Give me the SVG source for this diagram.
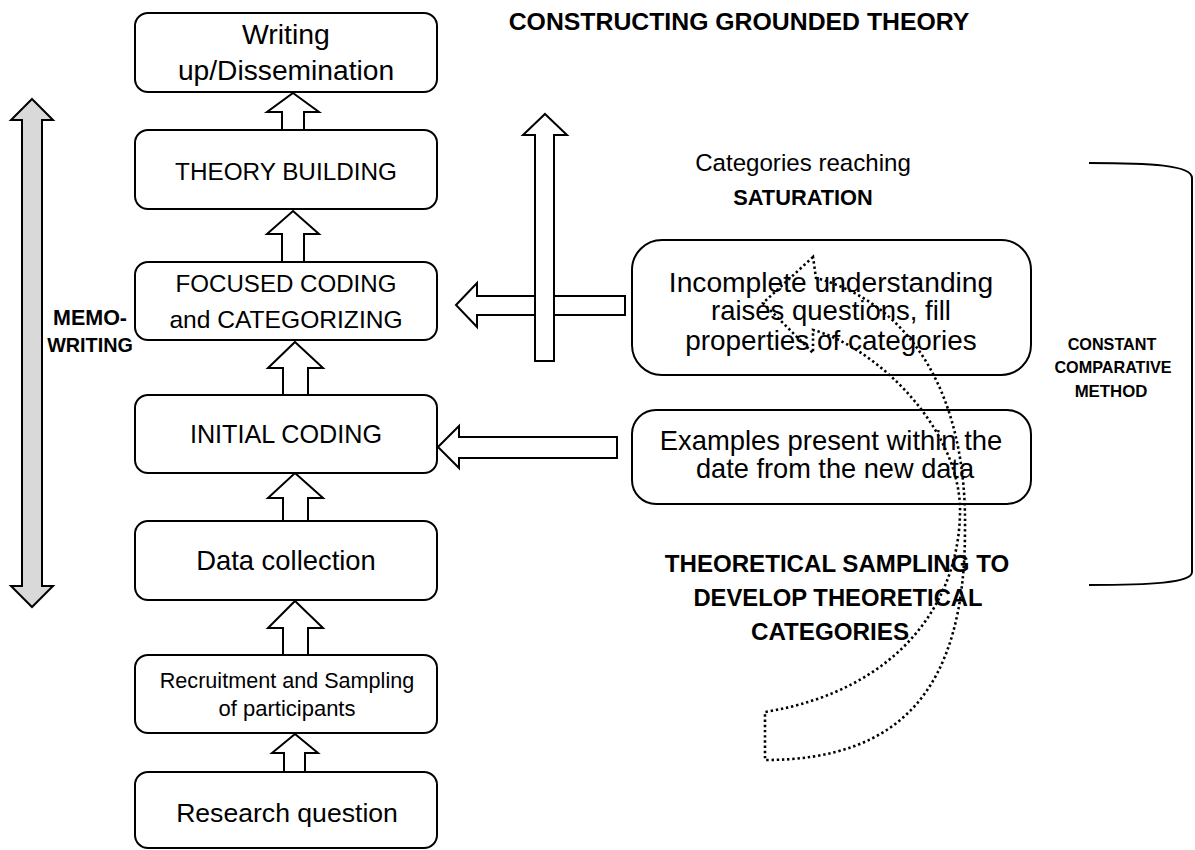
<svg xmlns="http://www.w3.org/2000/svg" width="1195" height="850" viewBox="0 0 1195 850">
<style>
.box{fill:#fff;stroke:#000;stroke-width:2}
.arr{fill:#fff;stroke:#000;stroke-width:2;stroke-linejoin:miter}
.t{font-family:"Liberation Sans",Arial,sans-serif;fill:#000;text-anchor:middle}
.b{font-weight:bold}
.dot{fill:none;stroke:#000;stroke-width:2.6;stroke-dasharray:2.4 2.8}
</style>
<rect width="1195" height="850" fill="#fff"/>

<g id="title"><text class="t b" x="739" y="30" font-size="24.8">CONSTRUCTING GROUNDED THEORY</text></g>

<g id="memo-writing">
<polygon points="32,99 53,120 42,120 42,586 53,586 32,607 11,586 22,586 22,120 11,120" fill="#d9d9d9" stroke="#000" stroke-width="2"/>
<text class="t b" x="90" y="325" font-size="21.5">MEMO-</text>
<text class="t b" x="90" y="352" font-size="19.8">WRITING</text>
</g>

<g id="connectors">
<polygon class="arr" points="293,93 319,112 304,112 304,130 282,130 282,112 267,112"/>
<polygon class="arr" points="293,211 319,234 304,234 304,262 282,262 282,234 267,234"/>
<polygon class="arr" points="295,342 323,368 308,368 308,395 283,395 283,368 268,368"/>
<polygon class="arr" points="295,473 323,498 308,498 308,521 283,521 283,498 268,498"/>
<polygon class="arr" points="295,601 323,628 308,628 308,655 283,655 283,628 268,628"/>
<polygon class="arr" points="295,734 318,753 305,753 305,772 284,772 284,753 272,753"/>
<polygon class="arr" points="456,305 477,283 477,296 625,296 625,315 477,315 477,327"/>
<polygon class="arr" points="545,114 567,135 554,135 554,361 535,361 535,135 523,135"/>
<polygon class="arr" points="438,447 459,426 459,437 617,437 617,458 459,458 459,468"/>
</g>

<g id="writing-up">
<rect class="box" x="135" y="13" width="302" height="79" rx="13"/>
<text class="t" x="286" y="44" font-size="28.4">Writing</text>
<text class="t" x="286" y="80" font-size="28.2">up/Dissemination</text>
</g>
<g id="theory-building">
<rect class="box" x="135" y="130" width="302" height="79" rx="13"/>
<text class="t" x="286" y="180" font-size="24.3">THEORY BUILDING</text>
</g>
<g id="focused-coding">
<rect class="box" x="135" y="262" width="302" height="78" rx="13"/>
<text class="t" x="286" y="292" font-size="24.1">FOCUSED CODING</text>
<text class="t" x="286" y="328" font-size="24.6">and CATEGORIZING</text>
</g>
<g id="initial-coding">
<rect class="box" x="135" y="395" width="302" height="78" rx="13"/>
<text class="t" x="286" y="443" font-size="25.2">INITIAL CODING</text>
</g>
<g id="data-collection">
<rect class="box" x="135" y="521" width="302" height="79" rx="13"/>
<text class="t" x="286" y="570" font-size="27.4">Data collection</text>
</g>
<g id="recruitment">
<rect class="box" x="135" y="655" width="302" height="78" rx="13"/>
<text class="t" x="287" y="688" font-size="21.6">Recruitment and Sampling</text>
<text class="t" x="287" y="716" font-size="22">of participants</text>
</g>
<g id="research-question">
<rect class="box" x="135" y="772" width="302" height="76" rx="13"/>
<text class="t" x="287" y="822" font-size="26.6">Research question</text>
</g>

<g id="saturation">
<text class="t" x="803" y="171" font-size="24.1">Categories reaching</text>
<text class="t b" x="803" y="205" font-size="21.8">SATURATION</text>
</g>

<g id="incomplete-understanding">
<rect class="box" x="632" y="240" width="399" height="135" rx="30"/>
<text class="t" x="831" y="292" font-size="28.2">Incomplete understanding</text>
<text class="t" x="831" y="320" font-size="27.5">raises questions, fill</text>
<text class="t" x="831" y="350" font-size="27.9">properties of categories</text>
</g>
<g id="examples">
<rect class="box" x="632" y="410" width="399" height="94" rx="24"/>
<text class="t" x="831" y="450" font-size="27.4">Examples present within the</text>
<text class="t" x="835" y="478" font-size="27.2">date from the new data</text>
</g>

<g id="theoretical-sampling">
<text class="t b" x="837" y="572" font-size="24.1">THEORETICAL SAMPLING TO</text>
<text class="t b" x="838" y="606" font-size="23.8">DEVELOP THEORETICAL</text>
<text class="t b" x="830" y="640" font-size="24.2">CATEGORIES</text>
</g>

<g id="curved-arrow">
<path class="dot" d="M813,257 L763,303 L813,353 L813,330 C870,345 955,420 960,505 C962,600 900,690 765,712 L765,760 C900,760 965,690 965,530 C967,400 915,305 816,278 Z"/>
</g>

<g id="constant-comparative">
<path d="M1089,163 C1150,163 1192,165 1192,178 L1192,572 C1192,583 1150,585 1089,585" fill="none" stroke="#000" stroke-width="2"/>
<text class="t b" x="1112" y="350" font-size="16.2">CONSTANT</text>
<text class="t b" x="1113" y="373" font-size="16.2">COMPARATIVE</text>
<text class="t b" x="1111" y="397" font-size="16.8">METHOD</text>
</g>
</svg>
